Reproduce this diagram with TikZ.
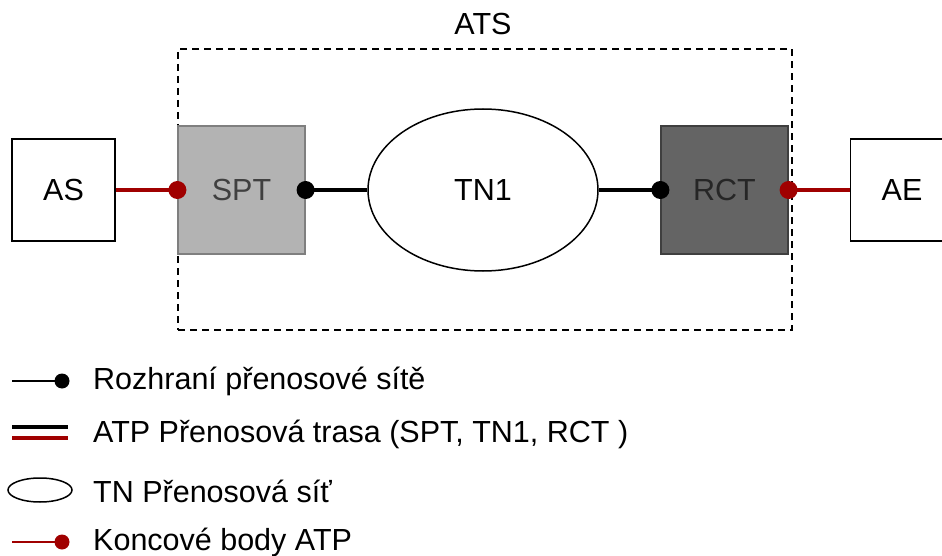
\documentclass[tikz,border=0pt]{standalone}
\usepackage{fontspec}
\setmainfont{Liberation Sans}
\usetikzlibrary{shapes.geometric}
\definecolor{atpred}{HTML}{A00000}
\definecolor{sptfill}{HTML}{B3B3B3}
\definecolor{sptline}{HTML}{7F7F7F}
\definecolor{rctfill}{HTML}{646464}
\definecolor{rctline}{HTML}{3F3F3F}
\tikzset{
  txt/.style={font=\fontsize{30.5}{36}\selectfont, inner sep=0pt},
  endbox/.style={draw, line width=1.5pt, fill=white, minimum width=103pt, minimum height=102pt, txt},
  termbox/.style={line width=1.2pt, minimum width=127pt, minimum height=128pt, txt},
  netshape/.style={ellipse, draw, line width=1.5pt, minimum width=230pt, minimum height=162pt, inner sep=0pt, txt},
  ifline/.style={line width=3.2pt, black},
  epline/.style={line width=3.2pt, atpred},
  bdot/.style={fill=black},
  rdot/.style={fill=atpred},
  legtxt/.style={txt, anchor=west}
}
\begin{document}
\begin{tikzpicture}[x=1pt, y=-1pt]
\clip (0,0) rectangle (942,556);
\fill[white] (0,0) rectangle (942,556);

% ATS boundary
\node[draw, dash pattern=on 7pt off 5pt, line width=1.5pt, minimum width=614pt, minimum height=281pt, inner sep=0pt] (ats) at (485,189.5) {};
\node[txt] (atslabel) at (483,24) {ATS};

% blocks
\node[endbox] (as) at (63.5,190) {AS};
\node[termbox, fill=sptfill, draw=sptline, text=black!75] (spt) at (241.5,190) {SPT};
\node[netshape] (tn) at (483,190) {TN1};
\node[termbox, fill=rctfill, draw=rctline, text=black!85] (rct) at (724.5,190) {RCT};
\node[endbox] (ae) at (902,190) {AE};

% connectors
\draw[epline] (as.east) -- (spt.west);
\draw[ifline] (spt.east) -- (tn.west);
\draw[ifline] (tn.east) -- (rct.west);
\draw[epline] (rct.east) -- (ae.west);

% interface points
\fill[rdot] (spt.west) circle (9pt);
\fill[bdot] (spt.east) circle (9pt);
\fill[bdot] (rct.west) circle (9pt);
\fill[rdot] (rct.east) circle (9pt);

% legend
\coordinate (l1a) at (12,381);
\coordinate (l1b) at (62,381);
\draw[line width=2pt] (l1a) -- (l1b);
\fill[bdot] (l1b) circle (7.5pt);
\node[legtxt] (t1) at (93,381) {Rozhraní přenosové sítě};

\coordinate (l2a) at (12,427);
\coordinate (l2b) at (68,427);
\coordinate (l2c) at (12,438);
\coordinate (l2d) at (68,438);
\draw[line width=4pt] (l2a) -- (l2b);
\draw[line width=4pt, atpred] (l2c) -- (l2d);
\node[legtxt] (t2) at (93,434) {ATP Přenosová trasa (SPT, TN1, RCT )};

\coordinate (l3) at (40,490);
\draw[line width=1.5pt] (l3) ellipse (32pt and 12pt);
\node[legtxt] (t3) at (93,491) {TN Přenosová síť};

\coordinate (l4a) at (12,542);
\coordinate (l4b) at (62,542);
\draw[line width=2pt, atpred] (l4a) -- (l4b);
\fill[rdot] (l4b) circle (7.5pt);
\node[legtxt] (t4) at (93,542) {Koncové body ATP};
\end{tikzpicture}
\end{document}
